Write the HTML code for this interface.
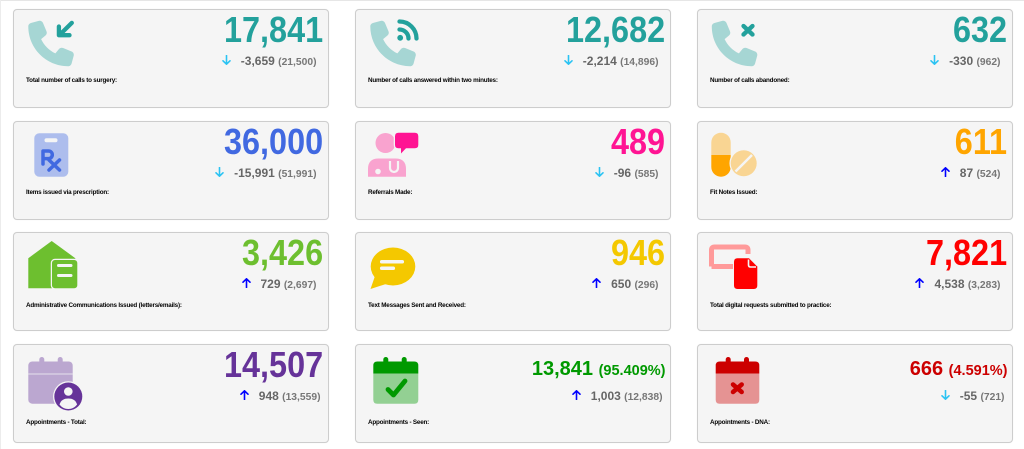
<!DOCTYPE html>
<html><head><meta charset="utf-8">
<style>
html,body{margin:0;padding:0;background:#fff;}
body{width:1024px;height:449px;position:relative;overflow:hidden;font-family:"Liberation Sans",sans-serif;}
.edge-t{position:absolute;left:0;top:0;width:1024px;height:1px;background:#e6e6e6}
.edge-l{position:absolute;left:0;top:0;width:1px;height:449px;background:#ececec}
.card{position:absolute;width:316px;height:99px;box-sizing:border-box;border:1px solid #cdcdcd;border-radius:4px;background:#f5f5f5;box-shadow:0 0 1px rgba(0,0,0,.08)}
.num{position:absolute;right:4.5px;top:1.5px;font:bold 36px/36px "Liberation Sans",sans-serif;transform:scaleX(.9);transform-origin:100% 50%;white-space:nowrap}
.num2{position:absolute;right:4.5px;top:12px;font:bold 20px/24px "Liberation Sans",sans-serif;white-space:nowrap}
.num2 span{font-size:14.5px}
.sub{position:absolute;right:11.5px;top:44px;font:bold 12px/14px "Liberation Sans",sans-serif;color:#666;white-space:nowrap}
.sub.r4{right:7.5px}
.sub span{font-size:10.3px;color:#777}
.sub svg{margin-right:10px}
.lbl{position:absolute;left:12px;top:67.3px;font:bold 6.3px/8px "Liberation Sans",sans-serif;letter-spacing:-.2px;color:#000;white-space:nowrap}
.lbl.r3{top:69px}
.lbl.r4{top:74.3px}
#icons{position:absolute;left:0;top:0;z-index:2}
</style></head><body>
<div class="edge-t"></div><div class="edge-l"></div>

<!-- Row 1 -->
<div class="card" style="left:13px;top:9px">
  <div class="num" style="color:#23a19c">17,841</div>
  <div class="sub"><svg width="9" height="10" viewBox="0 0 9 10"><path d="M4.5 0.5V9.2M1 5.8L4.5 9.2L8 5.8" stroke="#2ac3f3" stroke-width="1.6" fill="none" stroke-linecap="round" stroke-linejoin="round"/></svg>-3,659 <span>(21,500)</span></div>
  <div class="lbl">Total number of calls to surgery:</div>
</div>
<div class="card" style="left:355px;top:9px">
  <div class="num" style="color:#23a19c">12,682</div>
  <div class="sub"><svg width="9" height="10" viewBox="0 0 9 10"><path d="M4.5 0.5V9.2M1 5.8L4.5 9.2L8 5.8" stroke="#2ac3f3" stroke-width="1.6" fill="none" stroke-linecap="round" stroke-linejoin="round"/></svg>-2,214 <span>(14,896)</span></div>
  <div class="lbl">Number of calls answered within two minutes:</div>
</div>
<div class="card" style="left:697px;top:9px">
  <div class="num" style="color:#23a19c">632</div>
  <div class="sub"><svg width="9" height="10" viewBox="0 0 9 10"><path d="M4.5 0.5V9.2M1 5.8L4.5 9.2L8 5.8" stroke="#2ac3f3" stroke-width="1.6" fill="none" stroke-linecap="round" stroke-linejoin="round"/></svg>-330 <span>(962)</span></div>
  <div class="lbl">Number of calls abandoned:</div>
</div>

<!-- Row 2 -->
<div class="card" style="left:13px;top:121px">
  <div class="num" style="color:#4169e1">36,000</div>
  <div class="sub"><svg width="9" height="10" viewBox="0 0 9 10"><path d="M4.5 0.5V9.2M1 5.8L4.5 9.2L8 5.8" stroke="#2ac3f3" stroke-width="1.6" fill="none" stroke-linecap="round" stroke-linejoin="round"/></svg>-15,991 <span>(51,991)</span></div>
  <div class="lbl">Items issued via prescription:</div>
</div>
<div class="card" style="left:355px;top:121px">
  <div class="num" style="color:#ff1493">489</div>
  <div class="sub"><svg width="9" height="10" viewBox="0 0 9 10"><path d="M4.5 0.5V9.2M1 5.8L4.5 9.2L8 5.8" stroke="#2ac3f3" stroke-width="1.6" fill="none" stroke-linecap="round" stroke-linejoin="round"/></svg>-96 <span>(585)</span></div>
  <div class="lbl">Referrals Made:</div>
</div>
<div class="card" style="left:697px;top:121px">
  <div class="num" style="color:#ffa500">611</div>
  <div class="sub"><svg width="9" height="10" viewBox="0 0 9 10"><path d="M4.5 9.5V0.8M1 4.2L4.5 0.8L8 4.2" stroke="#0000ff" stroke-width="1.6" fill="none" stroke-linecap="round" stroke-linejoin="round"/></svg>87 <span>(524)</span></div>
  <div class="lbl">Fit Notes Issued:</div>
</div>

<!-- Row 3 -->
<div class="card" style="left:13px;top:232px">
  <div class="num" style="color:#6dbf2f">3,426</div>
  <div class="sub"><svg width="9" height="10" viewBox="0 0 9 10"><path d="M4.5 9.5V0.8M1 4.2L4.5 0.8L8 4.2" stroke="#0000ff" stroke-width="1.6" fill="none" stroke-linecap="round" stroke-linejoin="round"/></svg>729 <span>(2,697)</span></div>
  <div class="lbl r3">Administrative Communications Issued (letters/emails):</div>
</div>
<div class="card" style="left:355px;top:232px">
  <div class="num" style="color:#f4c800">946</div>
  <div class="sub"><svg width="9" height="10" viewBox="0 0 9 10"><path d="M4.5 9.5V0.8M1 4.2L4.5 0.8L8 4.2" stroke="#0000ff" stroke-width="1.6" fill="none" stroke-linecap="round" stroke-linejoin="round"/></svg>650 <span>(296)</span></div>
  <div class="lbl r3">Text Messages Sent and Received:</div>
</div>
<div class="card" style="left:697px;top:232px">
  <div class="num" style="color:#ff0000">7,821</div>
  <div class="sub"><svg width="9" height="10" viewBox="0 0 9 10"><path d="M4.5 9.5V0.8M1 4.2L4.5 0.8L8 4.2" stroke="#0000ff" stroke-width="1.6" fill="none" stroke-linecap="round" stroke-linejoin="round"/></svg>4,538 <span>(3,283)</span></div>
  <div class="lbl r3">Total digital requests submitted to practice:</div>
</div>

<!-- Row 4 -->
<div class="card" style="left:13px;top:344px">
  <div class="num" style="color:#663399">14,507</div>
  <div class="sub r4"><svg width="9" height="10" viewBox="0 0 9 10"><path d="M4.5 9.5V0.8M1 4.2L4.5 0.8L8 4.2" stroke="#0000ff" stroke-width="1.6" fill="none" stroke-linecap="round" stroke-linejoin="round"/></svg>948 <span>(13,559)</span></div>
  <div class="lbl r4">Appointments - Total:</div>
</div>
<div class="card" style="left:355px;top:344px">
  <div class="num2" style="color:#009900">13,841 <span>(95.409%)</span></div>
  <div class="sub r4"><svg width="9" height="10" viewBox="0 0 9 10"><path d="M4.5 9.5V0.8M1 4.2L4.5 0.8L8 4.2" stroke="#0000ff" stroke-width="1.6" fill="none" stroke-linecap="round" stroke-linejoin="round"/></svg>1,003 <span>(12,838)</span></div>
  <div class="lbl r4">Appointments - Seen:</div>
</div>
<div class="card" style="left:697px;top:344px">
  <div class="num2" style="color:#cc0000">666 <span>(4.591%)</span></div>
  <div class="sub r4"><svg width="9" height="10" viewBox="0 0 9 10"><path d="M4.5 0.5V9.2M1 5.8L4.5 9.2L8 5.8" stroke="#2ac3f3" stroke-width="1.6" fill="none" stroke-linecap="round" stroke-linejoin="round"/></svg>-55 <span>(721)</span></div>
  <div class="lbl r4">Appointments - DNA:</div>
</div>

<svg id="icons" width="1024" height="449" viewBox="0 0 1024 449">
  <!-- Row 1: phones -->
  <g fill="#a6d6d4">
    <path transform="translate(28.3,20.7) scale(0.0889)" d="M164.9 24.6c-7.7-18.6-28-28.5-47.4-23.2l-88 24C12.1 30.2 0 46 0 64C0 311.4 200.6 512 448 512c18 0 33.8-12.1 38.6-29.5l24-88c5.3-19.4-4.6-39.7-23.2-47.4l-96-40c-16.3-6.8-35.2-2.1-46.3 11.6L304.7 368C234.3 334.7 177.3 277.7 144 207.3L193.3 167c13.7-11.2 18.4-30 11.6-46.3l-40-96z"/>
    <path transform="translate(370.3,20.7) scale(0.0889)" d="M164.9 24.6c-7.7-18.6-28-28.5-47.4-23.2l-88 24C12.1 30.2 0 46 0 64C0 311.4 200.6 512 448 512c18 0 33.8-12.1 38.6-29.5l24-88c5.3-19.4-4.6-39.7-23.2-47.4l-96-40c-16.3-6.8-35.2-2.1-46.3 11.6L304.7 368C234.3 334.7 177.3 277.7 144 207.3L193.3 167c13.7-11.2 18.4-30 11.6-46.3l-40-96z"/>
    <path transform="translate(711.8,20.7) scale(0.0889)" d="M164.9 24.6c-7.7-18.6-28-28.5-47.4-23.2l-88 24C12.1 30.2 0 46 0 64C0 311.4 200.6 512 448 512c18 0 33.8-12.1 38.6-29.5l24-88c5.3-19.4-4.6-39.7-23.2-47.4l-96-40c-16.3-6.8-35.2-2.1-46.3 11.6L304.7 368C234.3 334.7 177.3 277.7 144 207.3L193.3 167c13.7-11.2 18.4-30 11.6-46.3l-40-96z"/>
  </g>
  <g stroke="#23a19c" stroke-width="4.3" fill="none" stroke-linecap="round" stroke-linejoin="round">
    <path d="M71.8 22.9L59.5 35M58.9 26.5V35.2H69.5"/>
    <path d="M399.5 29.5A9 9 0 0 1 408.5 38.5"/>
    <path d="M399.5 21.5A17 17 0 0 1 416.5 38.5"/>
    <path d="M743.5 26L752.5 34.5M752.5 26L743.5 34.5"/>
  </g>
  <circle cx="400.2" cy="37.8" r="2.9" fill="#23a19c"/>

  <!-- Row 2 col 1: Rx clipboard -->
  <rect x="34.3" y="133.3" width="34" height="43.4" rx="5" fill="#adbded"/>
  <rect x="44.5" y="138.3" width="13" height="4" rx="2" fill="#f5f5f5"/>
  <g stroke="#4169e1" stroke-width="3.5" fill="none" stroke-linecap="round" stroke-linejoin="round">
    <path d="M43 164V151H48.5A3.8 3.8 0 0 1 48.5 158.6H43"/>
    <path d="M49 160L59.5 170M59.5 160L49 170"/>
  </g>

  <!-- Row 2 col 2: referrals -->
  <circle cx="385.5" cy="143" r="10" fill="#f9a3cf"/>
  <path d="M368 176.7V169Q368 158.5 378.5 158.5H395.5Q406 158.5 406 169V176.7Z" fill="#f9a3cf"/>
  <circle cx="378" cy="171.5" r="2.8" fill="#f5f5f5"/>
  <path d="M390 161v7a4 4 0 0 0 8 0v-7" stroke="#f5f5f5" stroke-width="2.2" fill="none"/>
  <path d="M398.5 132.7H414.8Q418.3 132.7 418.3 136.2V144.7Q418.3 148.2 414.8 148.2H406L401 153.5L401 148.2H398.5Q395 148.2 395 144.7V136.2Q395 132.7 398.5 132.7Z" fill="#ff1493" stroke="#f5f5f5" stroke-width="2.5" paint-order="stroke"/>

  <!-- Row 2 col 3: pills -->
  <path d="M711.3 155V142.4A9.7 9.7 0 0 1 730.7 142.4V155Z" fill="#f9d593"/>
  <path d="M711.3 155V167A9.7 9.7 0 0 0 730.7 167V155Z" fill="#ffa500"/>
  <circle cx="743.7" cy="163.3" r="13" fill="#f9d593" stroke="#f5f5f5" stroke-width="2.5" paint-order="stroke"/>
  <path d="M735.5 171.5L752 155" stroke="#f5f5f5" stroke-width="2.5"/>

  <!-- Row 3 col 1: house -->
  <path d="M28.3 288.3V258.2L51.7 241L75.3 258.2V288.3Z" fill="#6dbf2f"/>
  <rect x="52" y="260" width="25.3" height="28.3" rx="3" fill="#6dbf2f" stroke="#f5f5f5" stroke-width="2.5" paint-order="stroke"/>
  <g stroke="#f5f5f5" stroke-width="3" stroke-linecap="round">
    <path d="M58.5 265.5H71M58.5 275.5H71"/>
  </g>

  <!-- Row 3 col 2: speech bubble -->
  <ellipse cx="393" cy="266.5" rx="22.3" ry="19" fill="#f4c800"/>
  <path d="M375 276L386 284L370.5 289Z" fill="#f4c800"/>
  <g stroke="#f5f5f5" stroke-width="3.5" stroke-linecap="round">
    <path d="M381.7 261.7H402.3M381.7 268.3H393.3"/>
  </g>

  <!-- Row 3 col 3: digital request -->
  <path d="M711.5 266.5V250Q711.5 247 714.5 247H745Q748 247 748 250V254M711.5 266.5H733" stroke="#ff9a9a" stroke-width="5" fill="none"/>
  <path d="M737.5 258.3H749L757.3 266.6V285.5Q757.3 289 753.8 289H737.5Q734 289 734 285.5V261.8Q734 258.3 737.5 258.3Z" fill="#ff0000" stroke="#f5f5f5" stroke-width="2" paint-order="stroke"/>
  <path d="M748.5 259.5V265Q748.5 267 750.5 267H756" stroke="#f5f5f5" stroke-width="1.6" fill="none"/>

  <!-- Row 4 col 1: calendar user -->
  <rect x="39.3" y="357" width="5" height="9" rx="2.5" fill="#bba7d0"/>
  <rect x="57.7" y="357" width="5" height="9" rx="2.5" fill="#bba7d0"/>
  <rect x="28.3" y="361.5" width="44.4" height="42.2" rx="4" fill="#bba7d0"/>
  <path d="M28.3 374H72.7" stroke="#f5f5f5" stroke-width="1.2" opacity=".6"/>
  <circle cx="68.3" cy="396.5" r="14" fill="#663399" stroke="#f5f5f5" stroke-width="2.5" paint-order="stroke"/>
  <circle cx="68.3" cy="391.5" r="4.3" fill="#f5f5f5"/>
  <path d="M59.5 404.5C61 400 64 398.5 68.3 398.5C72.6 398.5 75.6 400 77.1 404.5C74.8 407.5 71.8 409 68.3 409C64.8 409 61.8 407.5 59.5 404.5Z" fill="#f5f5f5"/>

  <!-- Row 4 col 2: calendar check -->
  <rect x="383.3" y="357" width="5" height="9" rx="2.5" fill="#009900"/>
  <rect x="401.7" y="357" width="5" height="9" rx="2.5" fill="#009900"/>
  <path d="M373.3 373.5V365.5Q373.3 361.5 377.3 361.5H414.3Q418.3 361.5 418.3 365.5V373.5Z" fill="#009900"/>
  <path d="M373.3 373.5H418.3V399.7Q418.3 403.7 414.3 403.7H377.3Q373.3 403.7 373.3 399.7Z" fill="#93d093"/>
  <path d="M388 389.5L393.5 395L405 381" stroke="#009900" stroke-width="4.8" fill="none" stroke-linecap="round" stroke-linejoin="round"/>

  <!-- Row 4 col 3: calendar x -->
  <rect x="725.7" y="357" width="5" height="9" rx="2.5" fill="#cc0000"/>
  <rect x="744" y="357" width="5" height="9" rx="2.5" fill="#cc0000"/>
  <path d="M715.7 373.5V365.5Q715.7 361.5 719.7 361.5H755.3Q759.3 361.5 759.3 365.5V373.5Z" fill="#cc0000"/>
  <path d="M715.7 373.5H759.3V399.7Q759.3 403.7 755.3 403.7H719.7Q715.7 403.7 715.7 399.7Z" fill="#e59393"/>
  <path d="M733 384.5L741.7 392M741.7 384.5L733 392" stroke="#cc0000" stroke-width="4.5" fill="none" stroke-linecap="round"/>
</svg>
</body></html>
